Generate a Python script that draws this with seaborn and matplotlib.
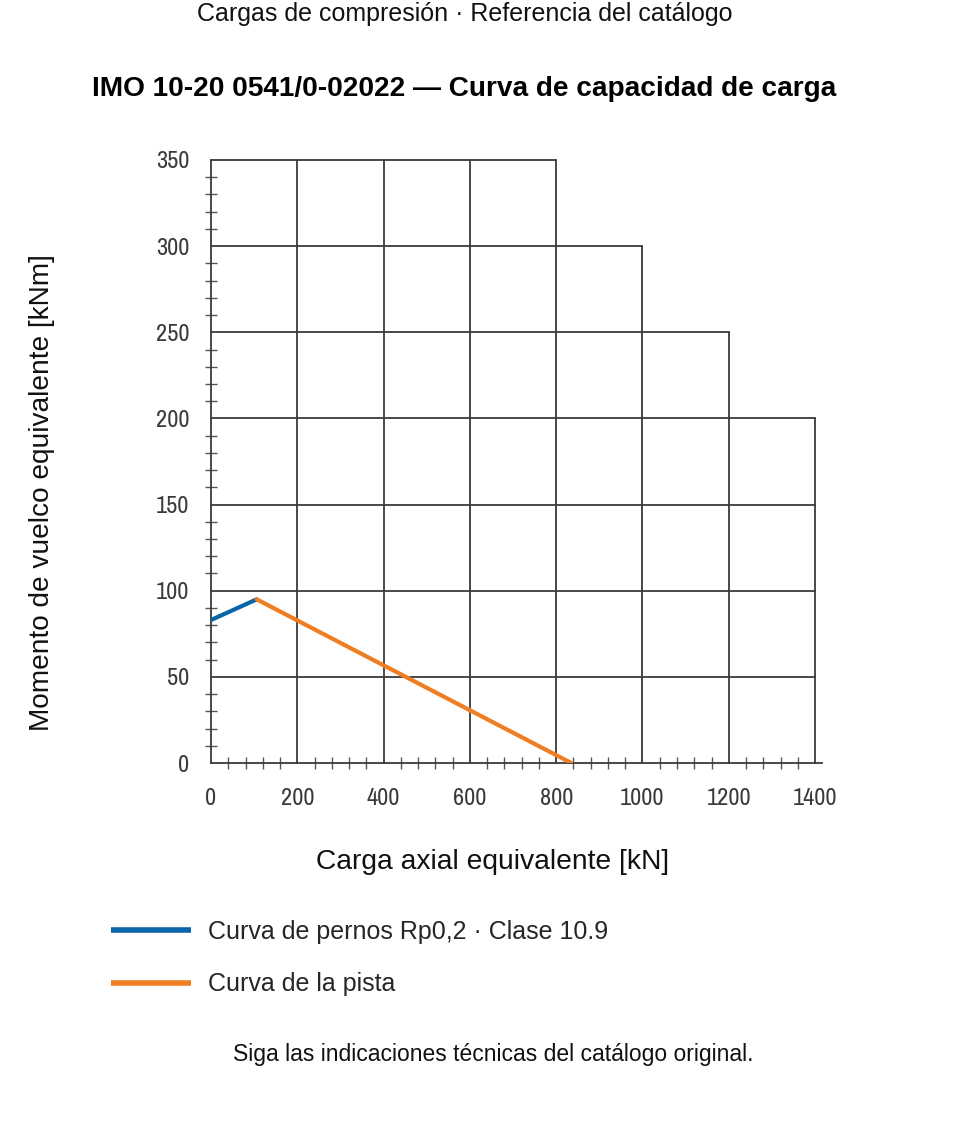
import matplotlib
matplotlib.use("Agg")
import matplotlib.pyplot as plt
from matplotlib import font_manager
from matplotlib.ticker import MultipleLocator
import seaborn as sns
import pandas as pd

# curve data
bolt_x = [0, 106]
bolt_y = [83, 95]
race_x = [106, 835]
race_y = [95, 0]

bolt_label = "Curva de pernos Rp0,2 · Clase 10.9"
race_label = "Curva de la pista"

# staircase outline of the printed grid (top of each vertical grid line)
grid_x = [0, 200, 400, 600, 800, 1000, 1200, 1400]
grid_top = [350, 350, 350, 350, 350, 300, 250, 200]
grid_y = [50, 100, 150, 200, 250, 300, 350]

sns.set_theme(style="white")
plt.rcParams["font.family"] = ["Liberation Sans", "DejaVu Sans"]

# narrow face for the tick numbers if one is around
tick_font = {"family": "Liberation Sans"}
fonts = font_manager.fontManager.ttflist
narrow = [f for f in fonts if "Narrow" in f.name or "Condensed" in f.name]
cond = [f for f in fonts if str(f.stretch) in ("condensed", "semi-condensed", "extra-condensed")
        or (isinstance(f.stretch, int) and f.stretch < 500)]
if narrow:
    tick_font = {"family": narrow[0].name}
elif cond:
    tick_font = {"family": cond[0].name, "stretch": cond[0].stretch}

df = pd.concat([
    pd.DataFrame({"x": bolt_x, "y": bolt_y, "curva": bolt_label}),
    pd.DataFrame({"x": race_x, "y": race_y, "curva": race_label}),
])

fig = plt.figure(figsize=(9.6, 11.38), dpi=100)
ax = fig.add_axes([211 / 960, 1 - 763 / 1138, 611 / 960, 603 / 1138])

grid_col = "#3a3a3a"
# vertical grid lines, cut at the staircase
for gx, gt in zip(grid_x[1:], grid_top[1:]):
    ax.plot([gx, gx], [0, gt], color=grid_col, lw=1.3, zorder=1, clip_on=False)
# horizontal grid lines, up to the last column tall enough
for gy in grid_y:
    right = max(gx for gx, gt in zip(grid_x, grid_top) if gt >= gy)
    ax.plot([0, right], [gy, gy], color=grid_col, lw=1.3, zorder=1, clip_on=False)

sns.lineplot(data=df, x="x", y="y", hue="curva",
             palette={bolt_label: "#0a64a8", race_label: "#ef7d22"},
             linewidth=3.0, ax=ax, legend=False, zorder=3)

ax.set_xlim(0, 1416)
ax.set_ylim(0, 350)
for s in ["top", "right"]:
    ax.spines[s].set_visible(False)
for s in ["left", "bottom"]:
    ax.spines[s].set_color(grid_col)
    ax.spines[s].set_linewidth(1.3)

ax.xaxis.set_major_locator(MultipleLocator(200))
ax.xaxis.set_minor_locator(MultipleLocator(40))
ax.yaxis.set_major_locator(MultipleLocator(50))
ax.yaxis.set_minor_locator(MultipleLocator(10))
ax.set_xticks(range(0, 1401, 200))
ax.tick_params(axis="x", which="major", direction="out", length=11, width=1.3,
               color=grid_col, pad=7, labelsize=17.5, labelcolor="#3a3a3a")
ax.tick_params(axis="y", which="major", direction="out", length=8.5, width=1.3,
               color=grid_col, pad=7, labelsize=17.5, labelcolor="#3a3a3a")
ax.tick_params(which="minor", direction="inout", length=8.5, width=1.0, color="#555555")
ax.tick_params(axis="x", which="minor", bottom=True)
ax.tick_params(axis="y", which="minor", left=True)
for lab in ax.get_xticklabels() + ax.get_yticklabels():
    lab.set_fontfamily(tick_font["family"])
    if "stretch" in tick_font:
        lab.set_fontstretch(tick_font["stretch"])

ax.set_xlabel("Carga axial equivalente [kN]", fontsize=20.3, color="#111111")
ax.set_ylabel("Momento de vuelco equivalente [kNm]", fontsize=20.2, color="#111111")
ax.xaxis.set_label_coords((493 - 211) / 611, (763 - 862) / 603)
ax.yaxis.set_label_coords((42 - 211) / 611, (763 - 493) / 603)
ax.xaxis.label.set_va("center")
ax.yaxis.label.set_va("center")

fig.text(465 / 960, 1 - 14 / 1138, "Cargas de compresión · Referencia del catálogo",
         ha="center", va="center", fontsize=18, color="#111111")
fig.text(464 / 960, 1 - 89 / 1138, "IMO 10-20 0541/0-02022 — Curva de capacidad de carga",
         ha="center", va="center", fontsize=20.2, fontweight="bold", color="#000000")
fig.text(493 / 960, 1 - 1055 / 1138, "Siga las indicaciones técnicas del catálogo original.",
         ha="center", va="center", fontsize=16.5, color="#111111")

# legend below the chart
handles = [plt.Line2D([], [], color="#0a64a8", lw=4, solid_capstyle="butt"),
           plt.Line2D([], [], color="#ef7d22", lw=4, solid_capstyle="butt")]
fig.legend(handles, [bolt_label, race_label], loc="upper left",
           bbox_to_anchor=(88 / 960, 1 - 897 / 1138), frameon=False,
           fontsize=18, handlelength=3.2, handletextpad=0.72, labelspacing=1.16)

fig.savefig("out.png", dpi=100)
